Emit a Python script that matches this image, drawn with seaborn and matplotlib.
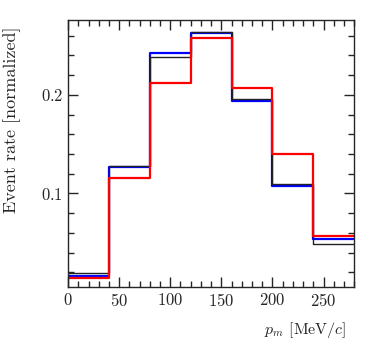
import numpy as np
import matplotlib
matplotlib.use("Agg")
import matplotlib.pyplot as plt
import seaborn as sns
from matplotlib.ticker import MultipleLocator

# bin edges and normalized event rates per sample
bin_edges = [0, 40, 80, 120, 160, 200, 240, 280]
rate_black = [0.019, 0.128, 0.238, 0.2636, 0.196, 0.110, 0.0486]
rate_blue = [0.016, 0.1265, 0.243, 0.263, 0.194, 0.1075, 0.0537]
rate_red = [0.014, 0.116, 0.212, 0.2575, 0.207, 0.140, 0.0567]

sns.set_style("ticks")
plt.rcParams['font.family'] = 'serif'
plt.rcParams['font.serif'] = ['cmr10']
plt.rcParams['mathtext.fontset'] = 'cm'
plt.rcParams['axes.formatter.use_mathtext'] = True

centers = [(a + b) / 2 for a, b in zip(bin_edges[:-1], bin_edges[1:])]

fig = plt.figure(figsize=(3.74, 3.45), dpi=100)
ax = fig.add_axes([0.182, 0.168, 0.765, 0.774])

for rates, col, lw in [(rate_blue, 'blue', 1.6), (rate_black, '#222222', 1.0), (rate_red, 'red', 1.6)]:
    sns.histplot(x=centers, weights=rates, bins=bin_edges, element='step',
                 fill=False, color=col, linewidth=lw, ax=ax)

ax.set_xlim(0, 280)
ax.set_ylim(0.005, 0.276)
ax.xaxis.set_major_locator(MultipleLocator(50))
ax.xaxis.set_minor_locator(MultipleLocator(10))
ax.yaxis.set_major_locator(MultipleLocator(0.1))
ax.yaxis.set_minor_locator(MultipleLocator(0.02))
ax.tick_params(which='both', direction='in', top=True, right=True, labelsize=12)
ax.tick_params(which='major', length=7, width=1)
ax.tick_params(which='minor', length=4, width=1)
for s in ax.spines.values():
    s.set_linewidth(1)

ax.set_xlabel(r'$p_m$ [MeV/$c$]', fontsize=11.5, ha='right')
ax.xaxis.set_label_coords(0.972, -0.125)
ax.set_ylabel('Event rate [normalized]', fontsize=13)
ax.yaxis.set_label_coords(-0.165, 0.625)

fig.savefig('out.png', dpi=100)
